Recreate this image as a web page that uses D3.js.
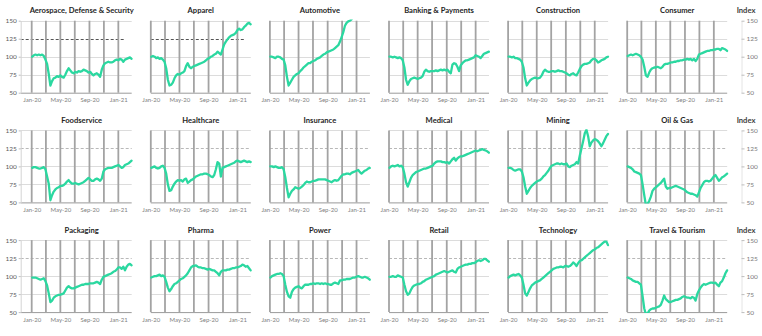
<!DOCTYPE html>
<html>
<head>
<meta charset="utf-8">
<script src="https://cdn.jsdelivr.net/npm/d3@7"></script>
<style>
  html, body { margin: 0; padding: 0; background: #ffffff; }
  svg { display: block; }
  text { font-family: Lato, "Open Sans", sans-serif; }
</style>
</head>
<body>
<script>
// ---------- DATA ----------
const dates = [
  "2020-01-03","2020-01-10","2020-01-17","2020-01-24","2020-01-31",
  "2020-02-07","2020-02-14","2020-02-21","2020-02-28",
  "2020-03-06","2020-03-13","2020-03-20","2020-03-27",
  "2020-04-03","2020-04-10","2020-04-17","2020-04-24",
  "2020-05-01","2020-05-08","2020-05-15","2020-05-22","2020-05-29",
  "2020-06-05","2020-06-12","2020-06-19","2020-06-26",
  "2020-07-03","2020-07-10","2020-07-17","2020-07-24","2020-07-31",
  "2020-08-07","2020-08-14","2020-08-21","2020-08-28",
  "2020-09-04","2020-09-11","2020-09-18","2020-09-25",
  "2020-10-02","2020-10-09","2020-10-16","2020-10-23","2020-10-30",
  "2020-11-06","2020-11-13","2020-11-20","2020-11-27",
  "2020-12-04","2020-12-11","2020-12-18","2020-12-25",
  "2021-01-01","2021-01-08","2021-01-15","2021-01-22","2021-01-29",
  "2021-02-05","2021-02-12","2021-02-19","2021-02-26"
];

const sectors = [
  "Aerospace, Defense & Security","Apparel","Automotive","Banking & Payments","Construction","Consumer",
  "Foodservice","Healthcare","Insurance","Medical","Mining","Oil & Gas",
  "Packaging","Pharma","Power","Retail","Technology","Travel & Tourism"
];

const aerospace = [100,102,103,102,103,102,103,101,96,90,76,60,66,70,71,73,72,74,72,71,75,80,84,81,78,77,79,78,80,79,80,82,81,80,78,79,76,74,76,77,75,72,82,88,91,92,93,92,92,93,95,96,95,97,96,93,96,97,98,99,97];
const apparel = [100,101,100,98,99,97,98,96,93,84,68,60,61,64,70,74,76,75,77,78,80,87,91,86,84,86,87,88,89,90,91,92,93,95,97,98,100,101,103,104,107,105,103,110,117,121,124,127,129,130,131,133,137,139,137,138,141,143,146,147,145];
const automotive = [100,100,99,98,100,100,99,97,96,88,72,60,64,68,72,74,76,77,80,82,85,87,89,91,91,93,94,95,97,98,99,101,103,104,106,107,108,109,110,112,114,116,121,127,134,143,147,149,150,152,158,162,168,172,170,175,178,176,180,178,175];
const banking = [100,100,99,100,99,98,99,98,95,85,68,61,66,69,70,71,70,69,70,71,73,79,82,80,79,80,80,80,81,80,81,82,81,82,81,82,79,77,89,91,90,86,80,88,91,93,95,95,96,97,98,99,102,101,100,98,101,104,105,106,107];
const construction = [100,100,99,100,98,98,97,96,93,85,70,60,64,67,69,70,71,70,70,71,74,79,82,80,79,79,80,80,79,80,81,80,80,79,78,77,75,74,76,77,75,74,78,83,87,89,90,90,91,92,95,97,97,95,92,93,95,96,97,99,100];
const consumer = [101,102,103,102,103,104,103,102,100,96,86,74,72,78,82,84,85,85,86,85,84,86,89,90,90,91,92,92,93,93,94,94,95,95,96,96,97,96,97,95,97,94,97,103,104,105,106,107,108,108,109,109,110,110,111,111,109,112,111,110,108];
const foodservice = [98,99,99,98,97,97,98,99,96,86,76,53,60,65,68,70,71,73,73,74,76,79,81,78,76,76,77,76,75,76,77,78,80,82,84,82,80,80,82,83,82,80,83,93,96,97,98,98,98,99,100,101,102,100,98,99,102,103,104,106,108];
const healthcare = [98,99,100,98,97,98,100,101,98,90,75,66,67,72,76,79,81,80,81,79,82,83,77,79,81,82,84,86,87,88,89,89,90,90,89,88,86,85,88,96,106,104,86,98,99,100,101,102,103,104,105,107,108,107,106,107,108,107,106,107,106];
const insurance = [100,100,99,100,99,98,98,99,96,85,70,57,62,66,68,71,70,69,70,72,74,77,79,78,78,79,80,80,81,82,82,82,82,82,81,80,79,78,80,81,80,81,84,87,89,89,90,90,89,91,92,93,94,95,92,90,92,94,95,97,98];
const medical = [98,100,101,100,101,102,100,101,99,90,78,72,78,84,88,90,92,93,94,95,96,97,97,98,99,100,101,104,106,107,107,107,106,106,105,106,104,107,110,112,108,111,113,114,114,115,116,117,118,119,120,121,122,121,122,123,124,123,122,121,119];
const mining = [98,98,97,95,94,95,96,96,93,85,72,62,66,70,73,75,77,79,80,81,83,86,88,91,94,98,101,102,103,104,104,103,104,103,103,104,100,99,101,102,103,106,104,115,125,135,146,151,142,128,133,136,138,137,135,132,128,132,137,142,145];
const oilGas = [100,99,98,96,93,92,91,90,88,75,60,46,48,52,58,66,69,71,73,75,77,80,83,72,69,70,70,71,72,73,72,71,70,69,68,66,64,63,62,62,61,60,58,64,70,74,78,80,80,79,80,83,86,88,84,80,82,85,86,88,90];
const packaging = [98,98,98,97,96,95,96,97,93,87,76,64,66,70,72,73,74,74,75,76,80,84,86,84,83,83,84,85,86,87,88,88,89,89,89,90,90,90,91,92,91,89,95,99,100,101,102,103,104,106,107,109,112,112,110,113,108,113,116,117,115];
const pharma = [98,99,100,100,101,102,100,101,99,92,84,79,82,86,89,90,92,94,96,97,99,101,104,108,112,114,114,115,113,112,112,111,111,110,109,110,109,108,108,106,104,101,106,108,108,108,109,109,110,111,111,112,112,113,114,116,115,113,114,111,108];
const power = [98,100,101,102,103,103,104,103,100,88,78,72,70,78,82,84,85,86,84,83,86,88,88,88,89,89,90,89,90,90,89,90,89,90,89,89,88,88,90,91,90,89,94,94,95,95,96,96,96,97,98,98,99,100,99,98,98,99,98,97,95];
const retail = [99,99,100,99,99,101,100,99,98,88,79,74,76,81,85,87,88,89,89,90,92,93,95,96,97,98,99,100,102,103,104,105,106,107,106,105,106,107,108,106,105,110,112,113,114,115,116,116,117,117,118,118,119,121,122,121,122,124,124,122,120];
const technology = [98,100,101,102,101,102,103,101,98,88,76,73,78,83,87,89,91,92,93,94,96,98,100,102,104,106,108,110,111,112,112,113,113,112,114,114,113,114,116,119,117,114,118,121,122,124,126,128,130,132,134,136,137,139,140,142,144,146,148,148,143];
const travel = [98,97,96,94,93,92,92,90,88,72,55,47,48,52,54,55,55,56,57,58,60,66,73,68,66,64,64,65,66,67,67,68,69,71,72,71,70,70,69,71,70,66,75,80,84,87,89,88,89,90,91,91,90,91,88,86,91,93,98,104,108];

const seriesValues = [aerospace, apparel, automotive, banking, construction, consumer,
  foodservice, healthcare, insurance, medical, mining, oilGas,
  packaging, pharma, power, retail, technology, travel];

const yTicks = [50, 75, 100, 125, 150];
const refLevel = 125;
const xTickDates = ["2020-01-01","2020-05-01","2020-09-01","2021-01-01"];
const xTickLabels = ["Jan-20","May-20","Sep-20","Jan-21"];
const gridDates = ["2020-01-01","2020-03-01","2020-05-01","2020-07-01","2020-09-01","2020-11-01","2021-01-01"];
const xDomain = ["2020-01-01","2021-03-01"];
const indexLabel = "Index";

// ---------- LAYOUT ----------
const W = 762, H = 336;
const colStep = 119.1, rowStep = 109.7;
const left0 = 31.7, top0 = 20.7;
const plotW = 100.6, plotH = 72;
const lineColor = "#2bd8a0";
const parse = d3.utcParse("%Y-%m-%d");

const svg = d3.select("body").append("svg")
  .attr("width", W).attr("height", H)
  .attr("viewBox", `0 0 ${W} ${H}`);

const defs = svg.append("defs");

sectors.forEach((name, k) => {
  const row = Math.floor(k / 6), col = k % 6;
  const x0 = left0 + col * colStep;
  const top = top0 + row * rowStep;
  const bottom = top + plotH;

  const x = d3.scaleUtc().domain(xDomain.map(parse)).range([x0, x0 + plotW]);
  const y = d3.scaleLinear().domain([50, 150]).range([bottom, top]);

  const g = svg.append("g").attr("class", "panel");
  const gridStart = col === 0 ? x0 - 11 : x0;
  const gridEnd = x0 + 100;

  // horizontal gridlines
  g.selectAll("line.hgrid")
    .data(yTicks.filter(v => v !== 50 && v !== refLevel))
    .join("line")
    .attr("class", "hgrid")
    .attr("x1", gridStart).attr("x2", gridEnd)
    .attr("y1", d => Math.round(y(d)) + 0.5).attr("y2", d => Math.round(y(d)) + 0.5)
    .attr("stroke", "#dcdcdc").attr("stroke-width", 1);

  // reference 125 line
  const darkRef = row === 0 && col < 2;
  const plainRef = row === 0 && col >= 2;
  g.append("line")
    .attr("x1", gridStart).attr("x2", gridEnd - (darkRef ? 6 : 0))
    .attr("y1", Math.round(y(refLevel)) + 0.5).attr("y2", Math.round(y(refLevel)) + 0.5)
    .attr("stroke", darkRef ? "#555" : (plainRef ? "#dcdcdc" : "#b8b8b8"))
    .attr("stroke-width", 1)
    .attr("stroke-dasharray", plainRef ? null : "3,2");

  // vertical gridlines
  g.selectAll("line.vgrid")
    .data(gridDates.map(parse))
    .join("line")
    .attr("class", "vgrid")
    .attr("x1", d => x(d)).attr("x2", d => x(d))
    .attr("y1", top).attr("y2", bottom)
    .attr("stroke", "#a3a3a3").attr("stroke-width", 1.8);

  // baseline
  g.append("line")
    .attr("x1", gridStart).attr("x2", gridEnd)
    .attr("y1", bottom + 0.5).attr("y2", bottom + 0.5)
    .attr("stroke", "#9a9a9a").attr("stroke-width", 1);

  // clip
  const clipId = "clip" + k;
  defs.append("clipPath").attr("id", clipId)
    .append("rect")
    .attr("x", x0 - 2).attr("y", top - 1.2)
    .attr("width", plotW + 4).attr("height", plotH + 2.2);

  const data = dates.map((d, i) => ({ date: parse(d), value: seriesValues[k][i] }));
  const line = d3.line().x(d => x(d.date)).y(d => y(d.value));
  g.append("path")
    .datum(data)
    .attr("clip-path", `url(#${clipId})`)
    .attr("d", line)
    .attr("fill", "none")
    .attr("stroke", lineColor)
    .attr("stroke-width", 2.3)
    .attr("stroke-linejoin", "round")
    .attr("stroke-linecap", "round");

  // x axis labels
  const xAxis = d3.axisBottom(x)
    .tickValues(xTickDates.map(parse))
    .tickFormat((d, i) => xTickLabels[i])
    .tickSize(0).tickPadding(5.5);
  const xg = g.append("g").attr("transform", `translate(0,${bottom})`).call(xAxis);
  xg.select(".domain").remove();
  xg.selectAll("text").attr("font-size", 6).attr("fill", "#808080")
    .attr("font-family", "Lato, sans-serif");

  // left y axis on first column
  if (col === 0) {
    const yAxis = d3.axisLeft(y).tickValues(yTicks).tickSize(2).tickSizeOuter(0).tickPadding(2);
    const yg = g.append("g").attr("transform", `translate(${x0 - 11},0)`).call(yAxis);
    yg.select(".domain").attr("stroke", "#d4d4d4");
    yg.selectAll(".tick line").attr("stroke", "#bdbdbd");
    yg.selectAll("text").attr("font-size", 6.5).attr("fill", "#595959")
      .attr("font-family", "Lato, sans-serif");
  }

  // title
  g.append("text")
    .attr("x", x0 + 50).attr("y", top - 7.5)
    .attr("text-anchor", "middle")
    .attr("font-size", 7.6).attr("font-weight", "bold")
    .attr("fill", "#262626")
    .text(name);

  // right index axis on last column
  if (col === 5) {
    const rAxis = d3.axisRight(y).tickValues(yTicks).tickSize(3).tickSizeOuter(0).tickPadding(2);
    const rg = g.append("g").attr("transform", `translate(741.5,0)`).call(rAxis);
    rg.select(".domain").attr("stroke", "#e4e4e4");
    rg.selectAll(".tick line").attr("stroke", "#bdbdbd");
    rg.selectAll("text").attr("font-size", 6.5).attr("fill", "#7a7a7a")
      .attr("font-family", "Lato, sans-serif");
    g.append("text")
      .attr("x", 746).attr("y", top - 7.5)
      .attr("text-anchor", "middle")
      .attr("font-size", 7.6).attr("font-weight", "bold")
      .attr("fill", "#404040")
      .text(indexLabel);
  }
});
</script>
</body>
</html>
